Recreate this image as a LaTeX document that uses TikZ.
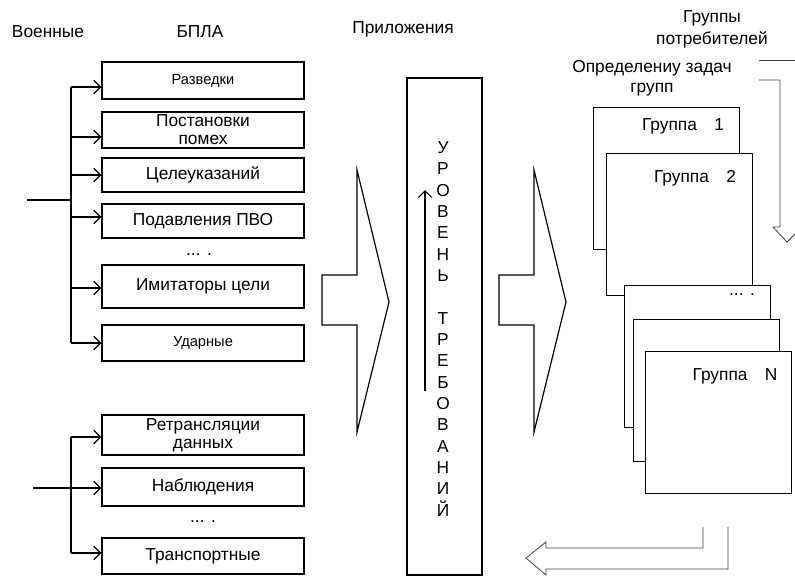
\documentclass[tikz,border=0pt]{standalone}
\usepackage{fontspec}
\setmainfont{Liberation Sans}
\usetikzlibrary{arrows.meta}

\begin{document}
\begin{tikzpicture}[x=0.75pt,y=-0.75pt,line width=0.9pt,
    every node/.style={font=\fontsize{13}{13.5}\selectfont},
    uavbox/.style={draw, minimum width=151.5pt, inner sep=0pt, align=center},
    feed/.style={-{Straight Barb[length=5pt,width=10pt]}},
    grpbox/.style={draw, fill=white, anchor=north west, minimum width=109.5pt, minimum height=106.5pt},
    hollow/.style={draw=black!75, line width=0.6pt}]

\useasboundingbox (0,0) rectangle (795,576);
\clip (0,0) rectangle (795,576);

% headers
\node (mil) at (48,32) {Военные};
\node (uav) at (200,32) {БПЛА};
\node (apps) at (403,29) {Приложения};
\node[align=center, font=\fontsize{13}{16.5}\selectfont] (users) at (712,29) {Группы\\потребителей};
\node[align=center, font=\fontsize{13}{15}\selectfont] (tasks) at (652,78) {Определениу задач\\групп};

% UAV types
\foreach \n/\yy/\hh/\t in {r1/80.5/37/{\fontsize{11}{12}\selectfont Разведки},
    r2/130/36/{Постановки\\помех}, r3/175/34/Целеуказаний,
    r4/221/34/Подавления ПВО, r5/286.5/43/Имитаторы цели,
    r6/343/36/{\fontsize{11}{12}\selectfont Ударные},
    r7/435/40/{Ретрансляции\\данных}, r8/487/38/Наблюдения, r9/556/36/Транспортные}
  \node[uavbox, minimum height=\hh*0.75pt] (\n) at (203,\yy) {\t};
\node (moreA) at (199,255) {... .};
\node (moreB) at (203,522) {... .};

% buses
\coordinate (busA) at (71,87);
\coordinate (busAend) at (71,343);
\coordinate (inA) at (27,200);
\coordinate (busB) at (71,437);
\coordinate (busBend) at (71,553);
\coordinate (inB) at (33,488);
\draw (busA) -- (busAend);
\draw (busB) -- (busBend);
\draw (inA) -- (inA -| busA);
\draw (inB) -- (inB -| busB);
\foreach \n/\yy in {r1/87,r2/137,r3/175,r4/217,r5/288,r6/343,r7/437,r8/488,r9/553} {
  \coordinate (tap) at (71,\yy);
  \draw[feed] (tap) -- (tap -| \n.west);
}

% big arrows
\foreach \dx in {0,177}
  \draw[shift={(\dx,0)}] (322,275) -- (357,275) -- (357,170) -- (389,302)
    -- (357,432) -- (357,325) -- (322,325) -- cycle;

% requirement level
\node[draw, minimum width=56.25pt, minimum height=372.75pt] (req) at (444.5,326.5) {};
\node[align=center, font=\fontsize{13}{16}\selectfont] (lvl) at (443,329)
  {У\\Р\\О\\В\\Е\\Н\\Ь\\ \\Т\\Р\\Е\\Б\\О\\В\\А\\Н\\И\\Й};
\coordinate (upS) at (425,391);
\coordinate (upE) at (425,190);
\draw[feed] (upS) -- (upE);

% consumer groups
\foreach \n/\xa/\ya/\t/\tx/\ty in {g1/593/107/{Группа\quad 1}/683/126,
    g2/606/153/{Группа\quad 2}/695/178, g3/624/285/{... .}/742/295,
    g4/633/319//0/0, gN/645/351/{Группа\quad N}/735/376} {
  \node[grpbox] (\n) at (\xa,\ya) {};
  \node at (\tx,\ty) {\t};
}

% feedback arrows
\draw[hollow] (703,527) -- (703,548) -- (546,548) -- (546,542) -- (526,558)
  -- (546,575) -- (546,569) -- (728,569) -- (728,527);
\draw[hollow] (759,60) -- (800,60) -- (800,227);
\draw[hollow] (759,80) -- (780,80) -- (780,227) -- (773,227) -- (787,242) -- (802,227);
\end{tikzpicture}
\end{document}
